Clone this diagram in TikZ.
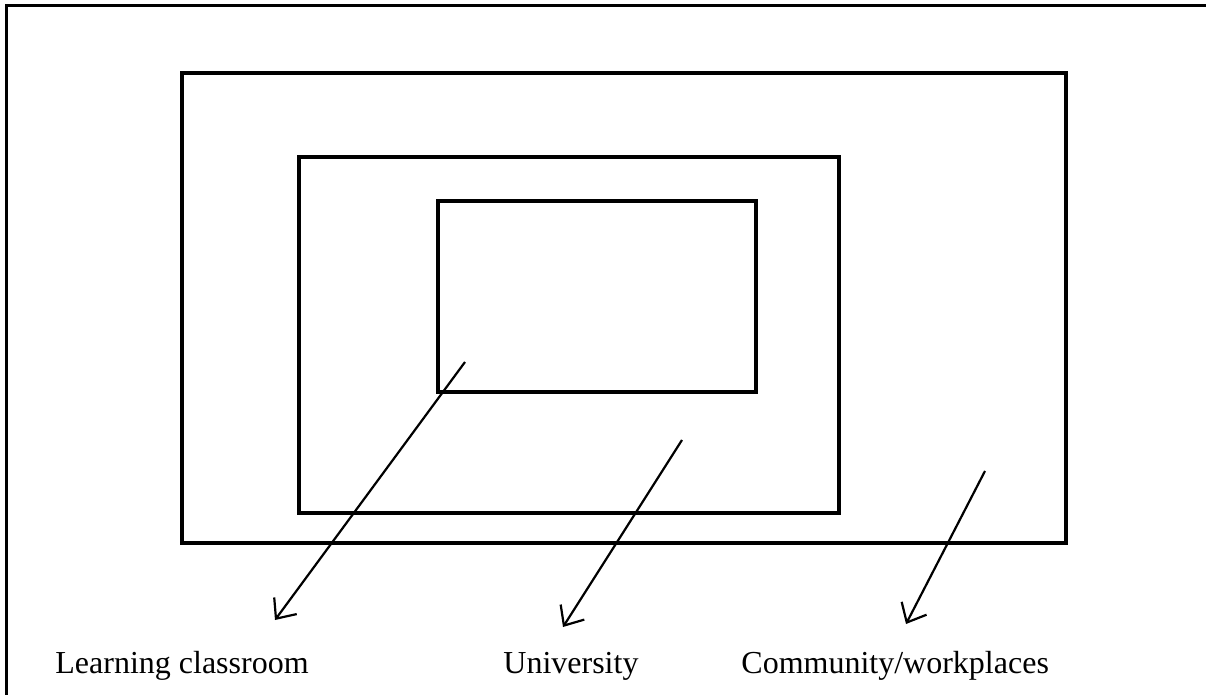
\documentclass[tikz,border=0pt]{standalone}
\usepackage{fontspec}
\setmainfont{Liberation Serif}
\usetikzlibrary{arrows.meta}
\tikzset{
  box/.style={draw, line width=2.3pt, inner sep=0pt, outer sep=0pt},
  pointer/.style={line width=1.1pt, -{Straight Barb[length=8pt,width=14pt,line width=1.1pt]}},
  label/.style={anchor=base west, inner sep=0pt, font=\fontsize{16}{19}\selectfont}
}
\begin{document}
\begin{tikzpicture}[x=0.5pt,y=-0.5pt]
\useasboundingbox (0,0) rectangle (1206,695);
% page frame (cut at right and bottom)
\draw[line width=1.5pt] (6,695)--(6,6)--(1206,6);
% nested settings
\node[box, minimum width=442pt, minimum height=235pt] (outer) at (624,308) {};
\node[box, minimum width=270pt, minimum height=178pt] (middle) at (569,335) {};
\node[box, minimum width=159pt, minimum height=95.5pt] (inner) at (597,296.5) {};
% labels
\node[label] (classroom) at (55,673) {Learning classroom};
\node[label] (university) at (503,673) {University};
\node[label] (community) at (741,673) {Community/workplaces};
% arrows
\coordinate (c1) at (465,362);
\coordinate (c2) at (682,440);
\coordinate (c3) at (985,471);
\coordinate (e1) at (275,620);
\coordinate (e2) at (563,627);
\coordinate (e3) at (906,624);
\draw[pointer] (c1)--(e1);
\draw[pointer] (c2)--(e2);
\draw[pointer] (c3)--(e3);
\end{tikzpicture}
\end{document}
